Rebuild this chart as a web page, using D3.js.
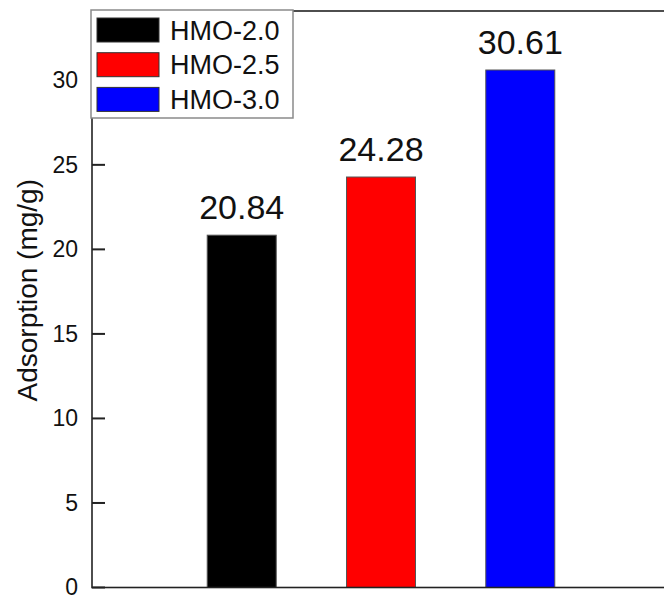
<!DOCTYPE html>
<html>
<head>
<meta charset="utf-8">
<script src="https://cdn.jsdelivr.net/npm/d3@7"></script>
<style>
  html, body { margin: 0; padding: 0; background: #fff; }
  svg { display: block; font-family: Arial, "Liberation Sans", sans-serif; }
</style>
</head>
<body>
<svg id="chart" width="664" height="598"></svg>
<script>
// Samples and their adsorption capacities (mg/g)
const categories = ["HMO-2.0", "HMO-2.5", "HMO-3.0"];
const values = [20.84, 24.28, 30.61];
const colors = ["#000000", "#ff0000", "#0000ff"];
const yTicks = [0, 5, 10, 15, 20, 25, 30];

const svg = d3.select("#chart");
const plotLeft = 92, plotRight = 670, plotTop = 11, plotBottom = 587.5;

const x = d3.scalePoint().domain(categories).range([plotLeft, plotRight]).padding(1.075);
const y = d3.scaleLinear().domain([0, 34.1]).range([plotBottom, plotTop]);
const barW = 69;

// bars
svg.append("g").selectAll("rect")
  .data(categories)
  .join("rect")
  .attr("x", d => x(d) - barW / 2)
  .attr("y", (d, i) => y(values[i]))
  .attr("width", barW)
  .attr("height", (d, i) => y(0) - y(values[i]))
  .attr("fill", (d, i) => colors[i])
  .attr("stroke", "#555")
  .attr("stroke-width", 1);

// value labels
svg.append("g").selectAll("text")
  .data(categories)
  .join("text")
  .attr("x", d => x(d))
  .attr("y", (d, i) => y(values[i]) - 16)
  .attr("text-anchor", "middle")
  .attr("font-size", 34)
  .attr("fill", "#111")
  .text((d, i) => values[i].toFixed(2));

// frame
svg.append("rect")
  .attr("x", plotLeft).attr("y", plotTop)
  .attr("width", plotRight - plotLeft).attr("height", plotBottom - plotTop)
  .attr("fill", "none").attr("stroke", "#222").attr("stroke-width", 1.6);

// left axis labels
const yAxis = d3.axisLeft(y).tickValues(yTicks).tickSizeInner(0).tickSizeOuter(0)
  .tickPadding(14).tickFormat(d3.format("d"));
const gy = svg.append("g").attr("transform", `translate(${plotLeft},0)`).call(yAxis);
gy.select(".domain").remove();
gy.selectAll(".tick line").remove();
gy.selectAll(".tick text")
  .attr("font-size", 23)
  .attr("fill", "#111")
  .attr("font-family", "Arial, 'Liberation Sans', sans-serif");

// tick marks pointing into the plot
svg.append("g").selectAll("rect")
  .data(yTicks)
  .join("rect")
  .attr("x", plotLeft)
  .attr("y", d => y(d) - 1)
  .attr("width", 13)
  .attr("height", 2)
  .attr("fill", "#222");

// axis title
svg.append("text")
  .attr("transform", `translate(37,${(plotTop + plotBottom) / 2 - 9}) rotate(-90)`)
  .attr("text-anchor", "middle")
  .attr("font-size", 28)
  .attr("fill", "#111")
  .text("Adsorption (mg/g)");

// legend
const lg = svg.append("g");
lg.append("rect")
  .attr("x", 91).attr("y", 10).attr("width", 202).attr("height", 108)
  .attr("fill", "#fff").attr("stroke", "#8a8a8a").attr("stroke-width", 1.5);
const items = lg.selectAll("g.item")
  .data(categories)
  .join("g")
  .attr("class", "item")
  .attr("transform", (d, i) => `translate(0,${i * 34.7})`);
items.append("rect")
  .attr("x", 97).attr("y", 18).attr("width", 62).attr("height", 24)
  .attr("fill", (d, i) => colors[i])
  .attr("stroke", "#333").attr("stroke-width", 1);
items.append("text")
  .attr("x", 170).attr("y", 39.5)
  .attr("font-size", 27)
  .attr("fill", "#111")
  .text(d => d);
</script>
</body>
</html>
